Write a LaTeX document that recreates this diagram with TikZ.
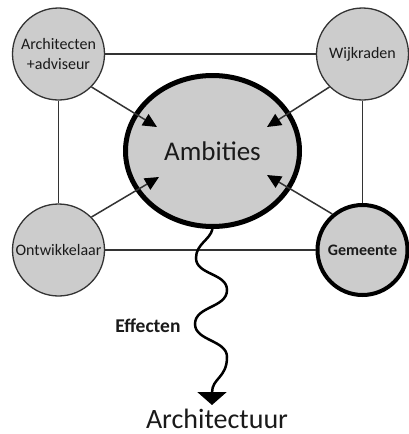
\documentclass[tikz,border=0pt]{standalone}
\usepackage{fontspec}
\setmainfont{Carlito}
\usetikzlibrary{arrows.meta,shapes.geometric}
\definecolor{fillg}{HTML}{CCCCCC}
\definecolor{edge}{HTML}{333333}
\definecolor{ink}{HTML}{1A1A1A}
\begin{document}
\begin{tikzpicture}[x=1pt,y=-1pt,
  actor/.style={circle,draw=edge,line width=1.3pt,fill=fillg,minimum size=92pt,
    inner sep=0pt,text=ink,font=\fontsize{16}{19.5}\selectfont,align=center},
  conn/.style={draw=edge,line width=1.5pt},
  inarrow/.style={conn,-{Triangle[length=14pt,width=13pt,color=black]}}]
\useasboundingbox (0,0) rectangle (409,434);
\fill[white] (0,0) rectangle (409,434);

% central ellipse
\node[ellipse,draw=black,line width=5pt,fill=fillg,minimum width=174pt,minimum height=151pt,
  inner sep=0pt,text=ink,font=\fontsize{27}{30}\selectfont] (amb) at (212.5,151) {Ambities};

% actors
\node[actor] (arch) at (58.5,54) {Architecten\\+adviseur};
\node[actor] (wijk) at (362.5,54) {Wijkraden};
\node[actor] (ontw) at (58.5,250) {Ontwikkelaar};
\node[actor,draw=black,line width=4pt,minimum size=90pt,font=\bfseries\fontsize{16}{19}\selectfont] (gem) at (362.5,250) {Gemeente};

% frame lines
\draw[conn] (arch) -- (wijk);
\draw[conn] (arch) -- (ontw);
\draw[conn] (wijk) -- (gem);
\draw[conn] (ontw) -- (gem);

% arrow tips inside the ellipse
\coordinate (t1) at (157,127);
\coordinate (t2) at (267,127);
\coordinate (t3) at (159,177);
\coordinate (t4) at (267,175);
\draw[inarrow] (arch.-45) -- (t1);
\draw[inarrow] (wijk.225) -- (t2);
\draw[inarrow] (ontw.45) -- (t3);
\draw[inarrow] (gem.130) -- (t4);

% result
\node[anchor=base,inner sep=1pt,text=ink,font=\fontsize{28}{30}\selectfont] (res) at (217,428) {Architectuur};
\coordinate (tip) at (212,405);
\draw[black,line width=2.5pt,-{Triangle[length=13pt,width=29pt]}]
  (amb.south) .. controls (210,240) and (196,244) .. (196,258)
  .. controls (196,275) and (227,273) .. (227,290)
  .. controls (227,308) and (195,306) .. (195,324)
  .. controls (195,341) and (227,340) .. (227,357)
  .. controls (227,378) and (212,378) .. (tip);
\node[anchor=base east,text=ink,font=\bfseries\fontsize{19.5}{22}\selectfont] (eff) at (184,332) {Effecten};
\end{tikzpicture}
\end{document}
